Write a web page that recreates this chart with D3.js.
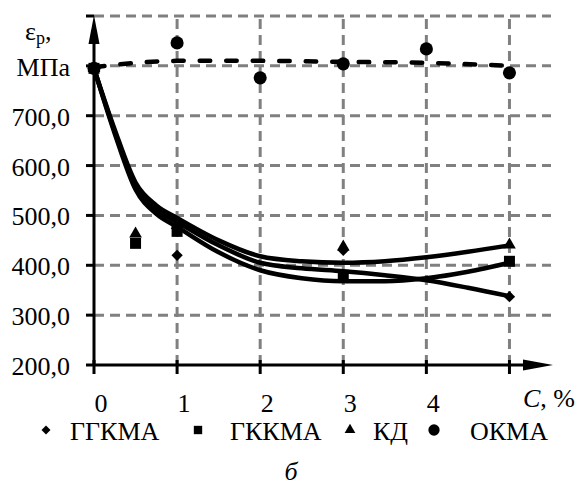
<!DOCTYPE html>
<html>
<head>
<meta charset="utf-8">
<script src="https://cdn.jsdelivr.net/npm/d3@7"></script>
<style>
  body { margin: 0; background: #fff; }
</style>
</head>
<body>
<svg id="chart" width="581" height="485" font-family="'Liberation Serif', 'Times New Roman', serif"></svg>
<script>
// measured points (C, %  ->  εр, MPa)
var ggkmaPts = [[0, 795], [1, 420], [3, 430], [5, 337]];
var gkkmaPts = [[0, 795], [0.5, 444], [1, 468], [3, 380], [5, 408]];
var kdPts    = [[0, 795], [0.5, 463], [1, 480], [3, 437], [5, 441]];
var okmaPts  = [[0, 795], [1, 846], [2, 776], [3, 804], [4, 834], [5, 786]];

// trend curves
var ggkmaTrend = [[0, 795], [0.25, 668], [0.5, 560], [0.75, 512], [1, 487], [1.5, 440], [2, 405], [2.5, 394], [3, 388], [3.5, 380], [4, 370], [4.5, 355], [5, 338]];
var gkkmaTrend = [[0, 795], [0.25, 664], [0.5, 552], [0.75, 503], [1, 477], [1.5, 426], [2, 390], [2.5, 374], [3, 368], [3.5, 368], [4, 374], [4.5, 387], [5, 405]];
var kdTrend    = [[0, 795], [0.25, 672], [0.5, 566], [0.75, 520], [1, 495], [1.5, 450], [2, 418], [2.5, 408], [3, 405], [3.5, 408], [4, 416], [4.5, 427], [5, 440]];
var okmaTrend  = [[0, 797], [0.5, 806], [1, 810], [2, 810], [3, 808], [4, 806], [5, 800]];

var xTicks = [0, 1, 2, 3, 4, 5];
var xTickLabels = ["0", "1", "2", "3", "4"];
var yTicks = [200, 300, 400, 500, 600, 700, 800, 900];
var yTickLabels = ["200,0", "300,0", "400,0", "500,0", "600,0", "700,0", "МПа"];
var legendLabels = ["ГГКМА", "ГККМА", "КД", "ОКМА"];

var svg = d3.select("#chart");
var x = d3.scaleLinear().domain([0, 5.5]).range([94, 551]);
var y = d3.scaleLinear().domain([200, 900]).range([365, 16]);

// grid
var grid = svg.append("g")
    .attr("stroke", "#808080")
    .attr("stroke-width", 3)
    .attr("stroke-dasharray", "10,6");
grid.selectAll(".hg")
  .data(yTicks.slice(1))
  .enter().append("line")
    .attr("x1", x(0)).attr("x2", x(5.5))
    .attr("y1", d => y(d)).attr("y2", d => y(d));
grid.selectAll(".vg")
  .data(xTicks.slice(1))
  .enter().append("line")
    .attr("x1", d => x(d)).attr("x2", d => x(d))
    .attr("y1", y(200)).attr("y2", y(900));

// axes
var ax = svg.append("g").attr("stroke", "#000").attr("stroke-width", 3);
ax.append("line").attr("x1", x(0)).attr("x2", 530).attr("y1", y(200)).attr("y2", y(200));
ax.append("line").attr("x1", x(0)).attr("x2", x(0)).attr("y1", y(200)).attr("y2", 40);
ax.selectAll(".yt")
  .data(yTicks)
  .enter().append("line")
    .attr("x1", x(0) - 8).attr("x2", x(0))
    .attr("y1", d => y(d)).attr("y2", d => y(d));
ax.selectAll(".xt")
  .data(xTicks)
  .enter().append("line")
    .attr("x1", d => x(d)).attr("x2", d => x(d))
    .attr("y1", y(200) - 5).attr("y2", y(200) + 9);
svg.append("path")
    .attr("d", "M" + x(0) + "," + (y(900) - 1) + "L" + (x(0) - 5.5) + ",44L" + (x(0) + 5.5) + ",44Z")
    .attr("fill", "#000");
svg.append("path")
    .attr("d", "M553," + y(200) + "L523," + (y(200) - 5.5) + "L523," + (y(200) + 5.5) + "Z")
    .attr("fill", "#000");

// tick labels
svg.selectAll(".ylab")
  .data(yTickLabels)
  .enter().append("text")
    .attr("x", 70)
    .attr("y", (d, i) => y(yTicks[i]) + 10)
    .attr("text-anchor", "end")
    .attr("font-size", 26)
    .text(d => d);
var yl = svg.append("text").attr("x", 25).attr("y", 40).attr("font-size", 26);
yl.append("tspan").text("ε");
yl.append("tspan").attr("font-size", 18).attr("dy", 4).text("р");
yl.append("tspan").attr("dy", -4).text(",");

svg.selectAll(".xlab")
  .data(xTickLabels)
  .enter().append("text")
    .attr("x", (d, i) => x(xTicks[i]) + 7)
    .attr("y", 412)
    .attr("text-anchor", "middle")
    .attr("font-size", 26)
    .text(d => d);
var xl = svg.append("text").attr("x", 523).attr("y", 407).attr("font-size", 26);
xl.append("tspan").attr("font-style", "italic").text("C");
xl.append("tspan").text(", %");

// trend lines
var line = d3.line().x(d => x(d[0])).y(d => y(d[1])).curve(d3.curveMonotoneX);
[ggkmaTrend, gkkmaTrend, kdTrend].forEach(t => {
  svg.append("path")
      .attr("d", line(t))
      .attr("fill", "none")
      .attr("stroke", "#000")
      .attr("stroke-width", 4.5);
});
svg.append("path")
    .attr("d", line(okmaTrend))
    .attr("fill", "none")
    .attr("stroke", "#000")
    .attr("stroke-width", 4.5)
    .attr("stroke-linecap", "round")
    .attr("stroke-dasharray", "10.5,16");

// markers
var shapes = [
  { pts: ggkmaPts, sym: d3.symbolSquare, size: 64, rot: 45 },
  { pts: gkkmaPts, sym: d3.symbolSquare, size: 121, rot: 0 },
  { pts: kdPts, sym: d3.symbolTriangle, size: 70, rot: 0 },
  { pts: okmaPts, sym: d3.symbolCircle, size: 135, rot: 0 }
];
shapes.forEach(s => {
  svg.append("g").selectAll("path")
    .data(s.pts)
    .enter().append("path")
      .attr("d", d3.symbol().type(s.sym).size(s.size))
      .attr("transform", d => "translate(" + x(d[0]) + "," + y(d[1]) + ") rotate(" + s.rot + ")")
      .attr("fill", "#000");
});

// legend
var legendMarkX = [46, 198, 350, 434];
var legendTextX = [70, 230, 373, 470];
var legendSizes = [40, 70, 50, 100];
shapes.forEach((s, i) => {
  svg.append("path")
      .attr("d", d3.symbol().type(s.sym).size(legendSizes[i]))
      .attr("transform", "translate(" + legendMarkX[i] + ",430) rotate(" + s.rot + ")")
      .attr("fill", "#000");
  svg.append("text")
      .attr("x", legendTextX[i])
      .attr("y", 440)
      .attr("font-size", 26)
      .text(legendLabels[i]);
});

svg.append("text")
    .attr("x", 291).attr("y", 480)
    .attr("text-anchor", "middle")
    .attr("font-size", 26)
    .attr("font-style", "italic")
    .text("б");
</script>
</body>
</html>
